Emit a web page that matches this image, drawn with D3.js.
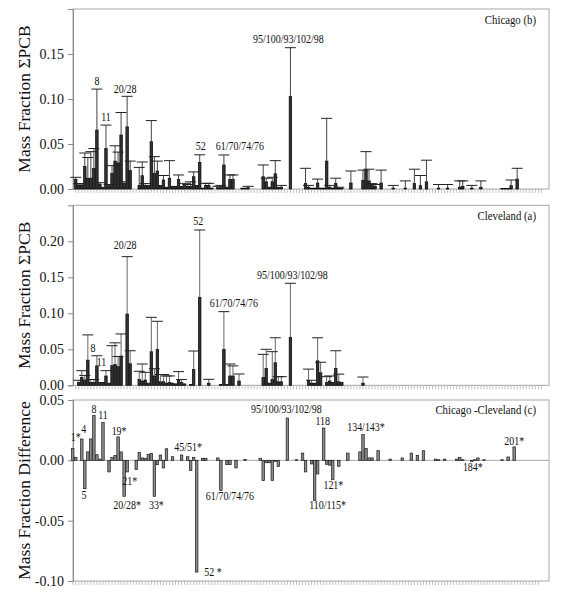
<!DOCTYPE html>
<html><head><meta charset="utf-8">
<script src="https://cdn.jsdelivr.net/npm/d3@7"></script>
<style>
body{margin:0;background:#fff}
svg{display:block}
</style>
</head><body>
<svg id="chart" width="564" height="599"></svg>
<script>
// ---------------- DATA ----------------
const categories = [
"1","2","3","4","5","6","7","8","9","10",
"11","12/13","15","16","17","19","18/30","20/28","21","22",
"23","24","25","26/29","27","31","32","33","34","35",
"36","37","38","40/41/71","42","44/47/65","45/51","46","48","49/69",
"50/53","52","54","55","56","57","58","59/62/75","60","61/70/74/76",
"63","64","66","67","68","72","73","77","78","79",
"80","81","82","83/99","84","85/116/117","86/87/97/108/119/125","88/91","89","90/101/113",
"92","93/95/98/100/102","94","96","103","104","105","106","107/124","109",
"110/115","111","112","118","114","120","121","122","123","126",
"127","128/166","129/138/160/163","130","131","132","134/143","135/151/154","136","137",
"139/140","141","142","144","145","146","147/149","148","150","152",
"153/168","155","156/157","158","159","162","164","167","169","170",
"171/173","172","174","175","176","177","178","179","180/193","181",
"182","183/185","184","186","187","188","189","190","191","192",
"194","195","196","197","198/199","200","201","202","203","204",
"205","206","207","208","209"];

const chicago = [
0.0107,0.0044,0.0044,0.025,0.012,0.012,0.023,0.0655,0.0055,0.002,
0.045,0.0037,0.0174,0.031,0.029,0.060,0.0063,0.069,0.0204,0,
0,0.004,0.0148,0.004,0.004,0.0526,0.0174,0.020,0.004,0.010,
0.002,0.012,0.003,0.003,0.0107,0.003,0.005,0.003,0.003,0.0137,
0.004,0.0296,0.001,0.004,0.004,0.001,0,0.0015,0.0015,0.0267,
0.002,0.0107,0.0107,0,0,0.001,0.001,0.0015,0,0,
0,0,0.0137,0.008,0.002,0.008,0.017,0.002,0.002,0,
0,0.103,0,0,0,0,0.006,0.002,0.001,0.001,
0.0066,0.001,0.001,0.031,0.002,0.001,0.006,0.001,0.001,0,
0,0.0067,0,0,0,0.0096,0.021,0.009,0.004,0.003,
0,0.0067,0,0,0,0.001,0,0,0,0.001,
0,0,0.006,0,0.0037,0,0.008,0,0,0,
0.001,0,0,0.001,0,0,0,0.002,0.003,0,
0,0.001,0,0,0.002,0,0,0,0,0,
0,0.0005,0.0005,0.0005,0.0037,0,0.011,0,0,0,
0,0,0,0,0];

const chicagoErr = [
0.013,0.006,0.006,0.040,0.035,0.0415,0.045,0.111,0.007,null,
0.071,0.005,0.026,0.048,0.041,0.085,0.008,0.103,0.031,null,
null,0.024,0.030,0.006,null,0.076,0.036,0.031,null,0.015,
null,0.0315,null,null,0.0156,null,0.0063,0.005,0.008,0.019,
null,0.038,null,0.0063,0.0063,null,null,0.003,0.004,0.0378,
null,0.0156,0.0156,null,null,null,null,0.003,null,null,
null,null,0.0267,0.012,null,0.013,0.0315,null,0.004,null,
null,0.157,null,null,null,null,0.023,0.004,null,null,
0.011,null,null,0.0785,0.004,null,0.012,0.002,null,null,
null,0.020,null,null,null,0.021,0.0415,0.022,0.006,0.005,
null,0.021,null,null,null,0.004,null,null,null,0.009,
null,null,0.022,null,0.015,null,0.032,null,null,null,
0.005,null,null,0.005,null,null,null,0.009,0.009,null,
null,0.004,null,null,0.009,null,null,null,null,null,
null,null,null,null,0.010,null,0.023,null,null,null,
null,null,null,null,null];

const cleveland = [
0,0.004,0.011,0.007,0.035,0.004,0.004,0.027,0.004,0.004,
0.013,0.003,0.0273,0.029,0.026,0.0407,0,0.099,0.030,0,
0,0.0083,0.006,0.0074,0.003,0.0467,0.013,0.050,0.005,0.005,
0.003,0.004,0.003,0.002,0.0074,0.004,0.002,0,0.001,0.022,
0,0.1222,0,0,0.003,0,0,0,0.001,0.050,
0.001,0.013,0.013,0,0.006,0,0,0,0,0,
0,0,0.011,0.0235,0.003,0.008,0.0314,0.005,0.005,0,
0,0.0667,0,0,0,0,0,0.007,0.003,0.003,
0.034,0.0175,0,0.004,0.006,0.004,0.0235,0.005,0.004,0,
0,0,0,0,0,0.003,0,0,0,0,
0,0,0,0,0,0,0,0,0,0,
0,0,0,0,0,0,0,0,0,0,
0,0,0,0,0,0,0,0,0,0,
0,0,0,0,0,0,0,0,0,0,
0,0,0,0,0,0,0,0,0,0,
0,0,0,0,0];

const clevelandErr = [
null,0.007,0.0203,0.0137,0.070,0.008,0.008,0.041,null,null,
0.0203,null,0.055,0.059,0.040,0.0713,null,0.1787,0.048,null,
null,0.0195,0.0296,0.018,null,0.0944,0.023,0.0889,0.015,0.015,
0.013,0.013,null,null,0.019,0.008,null,null,null,0.0476,
null,0.2157,null,null,0.0083,null,null,null,null,0.1023,
null,0.0296,0.027,null,0.0157,null,null,null,null,null,
null,null,0.043,0.050,null,0.0467,0.066,0.012,0.012,null,
null,0.1417,null,null,null,null,null,0.0225,0.007,null,
0.066,0.032,null,0.012,0.013,null,0.048,0.0155,null,null,
null,null,null,null,null,0.0115,null,null,null,null,
null,null,null,null,null,null,null,null,null,null,
null,null,null,null,null,null,null,null,null,null,
null,null,null,null,null,null,null,null,null,null,
null,null,null,null,null,null,null,null,null,null,
null,null,null,null,null,null,null,null,null,null,
null,null,null,null,null];

const difference = [
0.0097,0.0025,0,0.0177,-0.0235,0.007,0.0177,0.0373,0.0047,0.001,
0.0315,0,-0.0096,0.0025,0.004,0.0194,0.007,-0.0298,-0.0096,0,
0,-0.0077,0.0066,0.002,0.0017,0.005,0.0058,-0.0298,-0.0036,0.0044,
-0.0063,0.0096,0,0.003,0,0,0.0044,0,0.003,-0.0085,
0.0025,-0.0926,0,0.0017,0.0017,0,0,0,0.002,-0.0249,
0,-0.0036,-0.0036,0,-0.0063,0,0,0.0008,0,0,
0,0,0.0017,-0.0168,-0.002,-0.002,-0.0168,-0.001,-0.005,0,
0,0.0351,0,0,0.0005,0,0.006,-0.0096,0,-0.003,
-0.0334,-0.0113,0,0.0268,-0.0033,-0.004,-0.016,0,-0.0049,0,
0,0.006,0,0,0,0.007,0.0213,0.0097,0.002,0.002,
0,0.008,0,0,0,0.001,0,0,0,0.002,
0,0,0.006,0,0.004,0,0.008,0,0,0,
0.001,0.0005,0,0.001,0,0,0,0.001,0.0025,0.0005,
0,0,-0.0008,0.0005,0.002,0,0.0005,0,0,0,
0,0,0.0005,0,0.0028,0,0.0111,0,0,0,
0,0,0,0,0];

const chicagoTicks = [0, 0.05, 0.10, 0.15];
const clevelandTicks = [0, 0.05, 0.10, 0.15, 0.20];
const differenceTicks = [-0.10, -0.05, 0, 0.05];

// [category, label text]
const chicagoLabels = [["8","8"],["11","11"],["20/28","20/28"],["52","52"],["61/70/74/76","61/70/74/76"],["93/95/98/100/102","95/100/93/102/98"]];
const clevelandLabels = [["8","8"],["11","11"],["20/28","20/28"],["52","52"],["61/70/74/76","61/70/74/76"],["93/95/98/100/102","95/100/93/102/98"]];
const differenceLabels = [["1","1*"],["4","4"],["5","5"],["8","8"],["11","11"],["19","19*"],["20/28","20/28*"],["21","21*"],["33","33*"],["45/51","45/51*"],["52","52 *"],["61/70/74/76","61/70/74/76"],["93/95/98/100/102","95/100/93/102/98"],["110/115","110/115*"],["118","118"],["121","121*"],["134/143","134/143*"],["184","184*"],["201","201*"]];

const panelNames = ["Chicago  (b)", "Cleveland  (a)", "Chicago -Cleveland (c)"];
const axisTitles = ["Mass Fraction  \u03A3PCB", "Mass Fraction  \u03A3PCB", "Mass Fraction Difference"];

// ---------------- DRAWING ----------------
const FONT = "'Liberation Serif', 'Times New Roman', 'DejaVu Serif', serif";
const SX = 0.83;           // horizontal squeeze of the original typesetting
const L = 73, R = 549;
const svg = d3.select("#chart");

function addText(g, x, y, str, size, anchor) {
  return g.append("text")
    .attr("transform", `translate(${x},${y}) scale(${SX},1)`)
    .attr("text-anchor", anchor || "middle")
    .style("font-family", FONT)
    .style("font-size", size + "px")
    .attr("fill", "#111")
    .text(str);
}

const xTop = d3.scaleBand().domain(categories).range([74.5, 74.5 + 3.02 * 155]).paddingInner(0.18).paddingOuter(0);
const xDiff = d3.scaleBand().domain(categories).range([71.5, 71.5 + 3.02 * 155]).paddingInner(0.18).paddingOuter(0);

const tweaks = {
  "0:8":[0,-4],"0:11":[0,-4],"0:20/28":[-2,-3],"0:52":[1,-5],"0:61/70/74/76":[16,-5],"0:95/100/93/102/98":[-2,-5],
  "1:8":[-4,-3.5],"1:11":[-4.5,-5],"1:20/28":[-2,-7.5],"1:52":[-1.5,-5.3],"1:61/70/74/76":[10,-4.3],"1:95/100/93/102/98":[2,-4.3],
  "2:1*":[3,-7.3],"2:4":[2,-6],"2:8":[0,-2.7],"2:11":[0,-3],"2:19*":[1,-2.3],"2:45/51*":[6.6,-3.7],
  "2:95/100/93/102/98":[-1,-5],"2:118":[-1,-3],"2:134/143*":[3,-3.3],"2:201*":[0,-1.5],
  "2:5":[-0.8,10],"2:21*":[2.6,12.7],"2:20/28*":[3,12.4],"2:33*":[2,12.4],"2:61/70/74/76":[9,10],
  "2:110/115*":[13,8],"2:121*":[0.6,9],"2:184*":[1,10]
};

const panels = [
  {vals: chicago, err: chicagoErr, domain: [0, 0.2], range: [189, 9], ticks: chicagoTicks, labels: chicagoLabels, x: xTop, stem: "#444"},
  {vals: cleveland, err: clevelandErr, domain: [0, 0.25], range: [385.3, 205.3], ticks: clevelandTicks, labels: clevelandLabels, x: xTop, stem: "#666"},
  {vals: difference, err: null, domain: [-0.10, 0.05], range: [581, 400], ticks: differenceTicks, labels: differenceLabels, x: xDiff, diff: true}
];

panels.forEach((p, pi) => {
  const y = d3.scaleLinear().domain(p.domain).range(p.range);
  const x = p.x;
  const bw = x.bandwidth();
  const top = p.range[1], bot = p.range[0];
  const g = svg.append("g");

  // frame
  g.append("rect").attr("x", L).attr("y", top).attr("width", R - L).attr("height", bot - top)
    .attr("fill", "none").attr("stroke", "#a8a8a8").attr("stroke-width", 1);

  if (p.diff) {
    g.append("line").attr("x1", L).attr("x2", R).attr("y1", y(0)).attr("y2", y(0))
      .attr("stroke", "#a8a8a8").attr("stroke-width", 1);
  }

  // x ticks (no labels)
  const xa = g.append("g").attr("transform", `translate(0,${p.diff ? bot : y(0)})`)
    .call(d3.axisBottom(x).tickSize(4).tickFormat(""));
  xa.select(".domain").remove();
  xa.selectAll(".tick line").attr("stroke", "#9a9a9a").attr("stroke-width", 0.6);

  // y axis
  const ya = g.append("g").attr("transform", `translate(${L},0)`)
    .call(d3.axisLeft(y).tickValues(p.ticks).tickFormat(d => d.toFixed(2)).tickSize(5).tickPadding(3));
  ya.attr("font-family", null).attr("font-size", null);
  ya.select(".domain").attr("stroke", "#8a8a8a");
  ya.selectAll(".tick line").attr("stroke", "#8a8a8a");
  ya.selectAll(".tick text")
    .style("font-family", FONT).style("font-size", "14px")
    .attr("fill", "#111").attr("x", -9);

  // bars
  const data = categories.map((c, i) => ({c, v: p.vals[i], e: p.err ? p.err[i] : null})).filter(d => d.v !== 0);
  g.append("g").selectAll("rect").data(data).join("rect")
    .attr("x", d => x(d.c))
    .attr("y", d => d.v > 0 ? y(d.v) : y(0))
    .attr("width", bw)
    .attr("height", d => Math.abs(y(d.v) - y(0)))
    .attr("fill", p.diff ? "#8c8c8c" : "#333")
    .attr("stroke", p.diff ? "#1a1a1a" : "#000")
    .attr("stroke-width", 0.7);

  // error bars
  if (p.err) {
    const ed = data.filter(d => d.e != null);
    const eg = g.append("g");
    eg.selectAll("line.stem").data(ed).join("line").attr("class", "stem")
      .attr("x1", d => x(d.c) + bw / 2).attr("x2", d => x(d.c) + bw / 2)
      .attr("y1", d => y(d.v)).attr("y2", d => y(d.e))
      .attr("stroke", p.stem).attr("stroke-width", 1);
    eg.selectAll("line.cap").data(ed).join("line").attr("class", "cap")
      .attr("x1", d => x(d.c) + bw / 2 - 5.5).attr("x2", d => x(d.c) + bw / 2 + 5.5)
      .attr("y1", d => y(d.e)).attr("y2", d => y(d.e))
      .attr("stroke", "#222").attr("stroke-width", 1);
  }

  // peak labels
  p.labels.forEach(([cat, txt]) => {
    const i = categories.indexOf(cat);
    const v = p.vals[i];
    const ref = p.diff ? v : (p.err[i] != null ? p.err[i] : v);
    const t = tweaks[pi + ":" + txt] || [0, -4];
    const cx = x(cat) + bw / 2 + t[0];
    const cy = y(ref) + t[1];
    if (txt === "52 *") addText(g, x(cat) + bw / 2 + 7.5, y(v) + 3.5, txt, 12, "start");
    else addText(g, cx, cy, txt, 12, "middle");
  });

  // panel name
  const nameY = [24, 220, 414][pi];
  addText(g, 536, nameY, panelNames[pi], 13, "end");

  // axis title
  g.append("text")
    .attr("transform", `translate(30,${(top + bot) / 2}) rotate(-90)`)
    .attr("text-anchor", "middle")
    .style("font-family", FONT)
    .style("font-size", "17.5px")
    .attr("fill", "#111")
    .text(axisTitles[pi]);
});
</script>
</body></html>
